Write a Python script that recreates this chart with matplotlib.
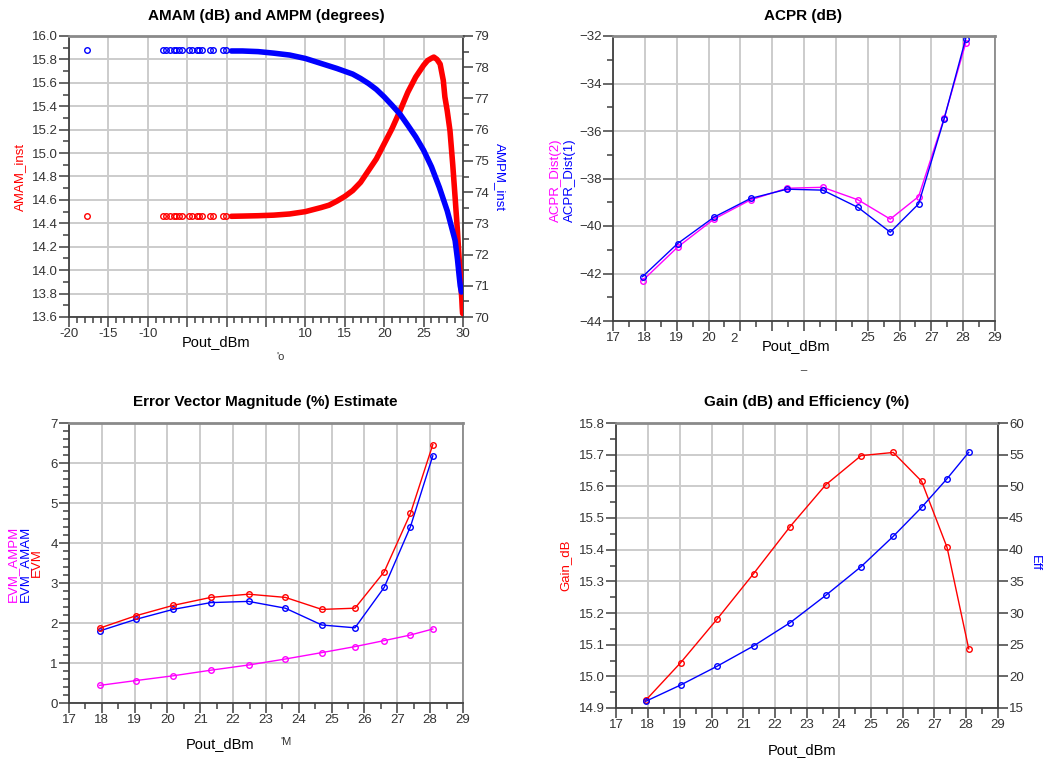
import matplotlib

matplotlib.use('Agg')
import matplotlib.pyplot as plt
from matplotlib.ticker import MultipleLocator, FixedLocator, FixedFormatter, FormatStrFormatter

plt.rcParams['font.family'] = ['Liberation Sans', 'DejaVu Sans']
plt.rcParams['font.size'] = 9.5

# --- AMAM / AMPM (instantaneous, swept envelope) ---
sparse_x = [-17.67, -8.05, -7.75, -7.2, -6.69, -6.36, -6.06, -5.72, -4.79,
            -4.36, -3.81, -3.47, -3.09, -2.12, -1.69, -0.51, -0.08]
amam_sparse = [14.46] * len(sparse_x)
ampm_sparse = [78.54] * len(sparse_x)

amam_x = [0.6, 2.0, 4.0, 6.0, 8.0, 10.0, 12.0, 13.0, 14.0, 15.0, 16.0, 17.0,
          18.0, 19.0, 20.0, 21.0, 22.0, 23.0, 24.0, 25.0, 25.5, 26.0, 26.3,
          26.7, 27.1, 27.5, 27.7, 28.0, 28.35, 28.7, 29.0, 29.3, 29.55, 29.75,
          29.85, 29.9, 29.95]
amam = [14.46, 14.462, 14.465, 14.47, 14.48, 14.50, 14.535, 14.555, 14.59,
        14.63, 14.68, 14.75, 14.85, 14.95, 15.08, 15.21, 15.36, 15.52, 15.65,
        15.75, 15.79, 15.81, 15.82, 15.80, 15.76, 15.62, 15.48, 15.36, 15.19,
        14.90, 14.62, 14.33, 14.05, 13.85, 13.75, 13.68, 13.63]

ampm_x = [0.6, 2, 4, 6, 8, 10, 12, 14, 16, 17, 18, 19, 20, 21, 22, 23, 24,
          25, 26, 27, 28, 29, 29.3, 29.5, 29.65, 29.8]
ampm = [78.52, 78.52, 78.5, 78.45, 78.39, 78.28, 78.12, 77.96, 77.78, 77.64,
        77.48, 77.29, 77.05, 76.78, 76.5, 76.14, 75.77, 75.34, 74.81, 74.15,
        73.4, 72.45, 71.85, 71.35, 71.0, 70.8]

# --- swept Pout points shared by the other three plots ---
pout = [17.93, 19.03, 20.17, 21.32, 22.47, 23.59, 24.70, 25.71, 26.60, 27.40, 28.08]

acpr1 = [-42.13, -40.74, -39.63, -38.84, -38.45, -38.49, -39.22, -40.26, -39.07, -35.50, -32.11]
acpr2 = [-42.30, -40.89, -39.71, -38.90, -38.41, -38.37, -38.90, -39.71, -38.76, -35.47, -32.30]

evm = [1.87, 2.18, 2.44, 2.64, 2.72, 2.64, 2.34, 2.37, 3.28, 4.74, 6.46]
evm_amam = [1.80, 2.09, 2.34, 2.51, 2.54, 2.37, 1.95, 1.88, 2.89, 4.41, 6.18]
evm_ampm = [0.44, 0.56, 0.68, 0.82, 0.95, 1.10, 1.26, 1.41, 1.56, 1.70, 1.85]

gain = [14.924, 15.043, 15.18, 15.324, 15.473, 15.605, 15.697, 15.707, 15.616, 15.407, 15.087]
eff = [16.05, 18.63, 21.58, 24.79, 28.47, 32.79, 37.32, 42.11, 46.68, 51.21, 55.37]

amam_xticks = list(range(-20, 31, 5))
amam_xlabels = ['-20', '-15', '-10', '', '', '', '10', '15', '20', '25', '30']
pout_xticks = list(range(17, 30))
acpr_xlabels = ['17', '18', '19', '20', '', '', '', '', '25', '26', '27', '28', '29']

RED, BLUE, MAG = '#ff0000', '#0000ff', '#ff00ff'
W, H = 1053, 761

fig = plt.figure(figsize=(W / 100, H / 100), dpi=100)


def box(l, t, r, b):
    return [l / W, 1 - b / H, (r - l) / W, (b - t) / H]


def ftext(x, y, s, **kw):
    fig.text(x / W, 1 - y / H, s, ha='center', va='center', **kw)


def ticks(ax):
    ax.tick_params(which='major', length=7, width=1.1, color='#404040',
                   labelcolor='#333333', labelsize=9.5, pad=1)
    ax.tick_params(which='minor', length=4, width=1.1, color='#404040')


def style(ax, right_dark=False):
    ax.grid(True, which='major', color='#cccccc', lw=1.4)
    ax.set_axisbelow(True)
    ax.spines['top'].set_color('#8a8a8a')
    ax.spines['top'].set_linewidth(2)
    for side in ('left', 'bottom'):
        ax.spines[side].set_color('#404040')
        ax.spines[side].set_linewidth(1.3)
    ax.spines['right'].set_color('#404040' if right_dark else '#8a8a8a')
    ax.spines['right'].set_linewidth(1.3)
    ticks(ax)


def pts(ax, x, y, c, lw=1.0):
    ax.plot(x, y, color=c, lw=lw, marker='o', ms=4, mfc='none', mec=c, mew=1)


def twin(ax):
    tw = ax.twinx()
    for s in tw.spines.values():
        s.set_visible(False)
    ticks(tw)
    return tw


# ---------------- AMAM / AMPM ----------------
ax1 = fig.add_axes(box(69, 36, 463, 317))
style(ax1, right_dark=True)
ax1.plot(sparse_x, amam_sparse, ls='none', marker='o', ms=4, mfc='none', mec=RED, mew=1)
ax1.plot(amam_x, amam, color=RED, lw=4, solid_capstyle='round', zorder=3)
ax1b = twin(ax1)
ax1b.plot(sparse_x, ampm_sparse, ls='none', marker='o', ms=4, mfc='none', mec=BLUE, mew=1)
ax1b.plot(ampm_x, ampm, color=BLUE, lw=4, solid_capstyle='round', zorder=2)
ax1.set_xlim(-20, 30)
ax1.set_ylim(13.6, 16.0)
ax1.xaxis.set_major_locator(FixedLocator(amam_xticks))
ax1.xaxis.set_major_formatter(FixedFormatter(amam_xlabels))
ax1.xaxis.set_minor_locator(MultipleLocator(1))
ax1.yaxis.set_major_locator(MultipleLocator(0.2))
ax1.yaxis.set_minor_locator(MultipleLocator(0.1))
ax1.yaxis.set_major_formatter(FormatStrFormatter('%.1f'))
ax1b.set_ylim(70, 79)
ax1b.yaxis.set_major_locator(MultipleLocator(1))
ax1b.yaxis.set_minor_locator(MultipleLocator(0.5))
ftext(266, 16, 'AMAM (dB) and AMPM (degrees)', fontsize=11, fontweight='bold')
ftext(20, 177, 'AMAM_inst', color=RED, rotation=90, fontsize=9.5)
ftext(500, 177, 'AMPM_inst', color=BLUE, rotation=270, fontsize=9.5)
ftext(216, 342, 'Pout_dBm', fontsize=10.5)
ftext(281, 357, "'o", fontsize=8, color='#333333')

# ---------------- ACPR ----------------
ax2 = fig.add_axes(box(613, 36, 995, 321))
style(ax2)
pts(ax2, pout, acpr2, MAG)
pts(ax2, pout, acpr1, BLUE)
ax2.set_xlim(17, 29)
ax2.set_ylim(-44, -32)
ax2.xaxis.set_major_locator(FixedLocator(pout_xticks))
ax2.xaxis.set_major_formatter(FixedFormatter(acpr_xlabels))
ax2.xaxis.set_minor_locator(MultipleLocator(0.5))
ax2.yaxis.set_major_locator(MultipleLocator(2))
ax2.yaxis.set_minor_locator(MultipleLocator(1))
ftext(803, 16, 'ACPR (dB)', fontsize=11, fontweight='bold')
ftext(556, 180, 'ACPR_Dist(2)', color=MAG, rotation=90, fontsize=9.5)
ftext(570, 180, 'ACPR_Dist(1)', color=BLUE, rotation=90, fontsize=9.5)
ftext(734, 339, '2', fontsize=9.5, color='#333333')
ftext(796, 346, 'Pout_dBm', fontsize=10.5)
ftext(803, 366, '_', fontsize=8, color='#333333')

# ---------------- EVM ----------------
ax3 = fig.add_axes(box(69, 423, 463, 703))
style(ax3)
pts(ax3, pout, evm_ampm, MAG)
pts(ax3, pout, evm_amam, BLUE)
pts(ax3, pout, evm, RED)
ax3.set_xlim(17, 29)
ax3.set_ylim(0, 7)
ax3.xaxis.set_major_locator(MultipleLocator(1))
ax3.xaxis.set_minor_locator(MultipleLocator(0.5))
ax3.yaxis.set_major_locator(MultipleLocator(1))
ax3.yaxis.set_minor_locator(MultipleLocator(0.2))
ftext(265, 402, 'Error Vector Magnitude (%) Estimate', fontsize=11, fontweight='bold')
ftext(13, 564, 'EVM_AMPM', color=MAG, rotation=90, fontsize=9.5)
ftext(25, 564, 'EVM_AMAM', color=BLUE, rotation=90, fontsize=9.5)
ftext(37, 563, 'EVM', color=RED, rotation=90, fontsize=9.5)
ftext(220, 744, 'Pout_dBm', fontsize=10.5)
ftext(286, 742, "'M", fontsize=8, color='#333333')

# ---------------- Gain / Efficiency ----------------
ax4 = fig.add_axes(box(616, 423, 998, 708))
style(ax4, right_dark=True)
pts(ax4, pout, gain, RED)
ax4b = twin(ax4)
pts(ax4b, pout, eff, BLUE)
ax4.set_xlim(17, 29)
ax4.set_ylim(14.9, 15.8)
ax4.xaxis.set_major_locator(MultipleLocator(1))
ax4.xaxis.set_minor_locator(MultipleLocator(0.5))
ax4.yaxis.set_major_locator(MultipleLocator(0.1))
ax4.yaxis.set_minor_locator(MultipleLocator(0.05))
ax4.yaxis.set_major_formatter(FormatStrFormatter('%.1f'))
ax4b.set_ylim(15, 60)
ax4b.yaxis.set_major_locator(MultipleLocator(5))
ax4b.yaxis.set_minor_locator(FixedLocator([]))
ftext(807, 402, 'Gain (dB) and Efficiency (%)', fontsize=11, fontweight='bold')
ftext(565, 565, 'Gain_dB', color=RED, rotation=90, fontsize=9.5)
ftext(1035, 563, 'Eff', color=BLUE, rotation=270, fontsize=9.5)
ftext(802, 750, 'Pout_dBm', fontsize=10.5)

fig.savefig('out.png', dpi=100)
